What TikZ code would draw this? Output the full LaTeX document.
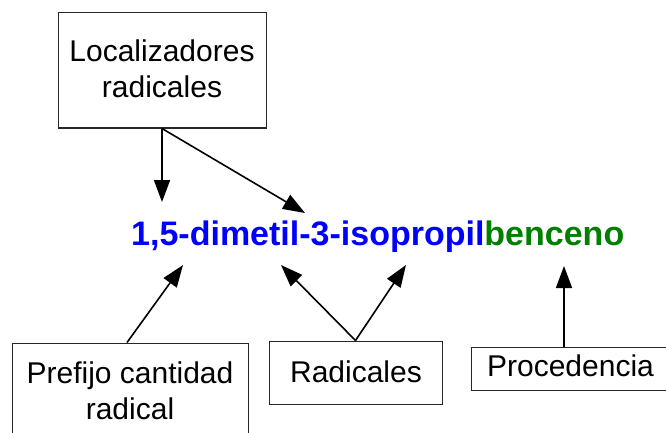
\documentclass[tikz,border=0pt]{standalone}
\usepackage{fontspec}
\setmainfont{Liberation Sans}
\usetikzlibrary{arrows.meta}
\definecolor{nameblue}{RGB}{0,0,255}
\definecolor{namegreen}{RGB}{0,128,0}
\begin{document}
\begin{tikzpicture}[x=1pt,y=-1pt,
  frame/.style={draw=black!85, line width=1pt, inner sep=0pt},
  lbl/.style={font=\fontsize{30}{36}\selectfont, inner sep=0pt, align=center},
  conn/.style={line width=1.6pt, -{Triangle[length=22pt,width=16pt]}},
]
\useasboundingbox (0,0) rectangle (666,433);
\clip (0,0) rectangle (666,433);
% boxes
\node[frame, minimum width=208pt, minimum height=115pt] (loc) at (162,70.5) {};
\node[frame, minimum width=236pt, minimum height=130pt] (pre) at (130,408) {};
\node[frame, minimum width=173pt, minimum height=63pt] (rad) at (355.5,372.5) {};
\node[frame, minimum width=209pt, minimum height=43pt] (proc) at (575.5,368.5) {};
% box texts
\node[lbl] (loct) at (162,69.25) {Localizadores\\radicales};
\node[lbl] (pret) at (130,391.25) {Prefijo cantidad\\radical};
\node[lbl, anchor=base] (radt) at (356,382) {Radicales};
\node[lbl, anchor=base] (proct) at (570.5,376) {Procedencia};
% compound name
\node[anchor=base west, inner sep=0pt, font=\fontsize{34}{40}\selectfont\bfseries] (name) at (131,245.5)
  {\textcolor{nameblue}{1,5-dimetil-3-isopropil}\textcolor{namegreen}{benceno}};
% arrow targets
\coordinate (t1) at (162,202);
\coordinate (t2) at (305,213);
\coordinate (t3) at (183,265);
\coordinate (t4) at (281,265);
\coordinate (t5) at (406,265);
\coordinate (t6) at (564,266);
% connectors
\draw[conn] (loc.south) -- (t1);
\draw[conn] (loc.south) -- (t2);
\draw[conn] ([xshift=-3pt]pre.north) -- (t3);
\draw[conn] (rad.north) -- (t4);
\draw[conn] (rad.north) -- (t5);
\draw[conn] ([xshift=-11.5pt]proc.north) -- (t6);
\end{tikzpicture}
\end{document}
